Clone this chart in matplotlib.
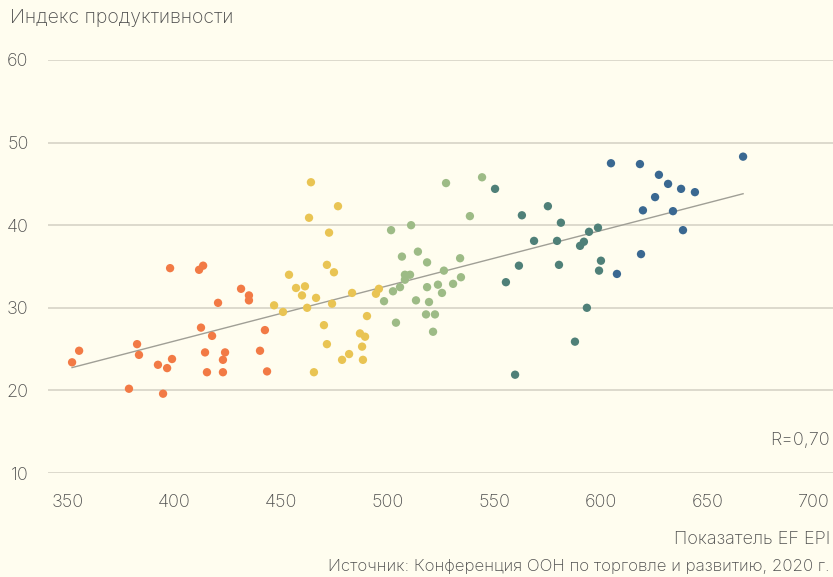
import numpy as np
import matplotlib
matplotlib.use("Agg")
import matplotlib.pyplot as plt

# ---- data ----
orange_x = [351.9, 355.2, 378.6, 382.4, 383.3, 392.2, 394.6, 396.5, 397.9, 398.8,
            411.5, 413.4, 412.4, 414.3, 415.2, 417.6, 420.4, 423.7, 422.7, 422.7,
            431.2, 434.9, 434.9, 440.1, 442.4, 443.4]
orange_y = [23.4, 24.8, 20.2, 25.6, 24.3, 23.1, 19.6, 22.7, 34.8, 23.8,
            34.6, 35.1, 27.6, 24.6, 22.2, 26.6, 30.6, 24.6, 23.7, 22.2,
            32.3, 31.5, 30.9, 24.8, 27.3, 22.3]

yellow_x = [464.0, 476.7, 463.1, 472.5, 471.5, 474.8, 453.7, 457.0, 461.2, 459.8,
            466.4, 462.2, 450.9, 446.7, 473.9, 483.3, 495.9, 494.5, 490.3, 470.1,
            487.0, 489.4, 471.5, 488.0, 481.9, 478.6, 488.4, 465.4]
yellow_y = [45.2, 42.3, 40.9, 39.1, 35.2, 34.3, 34.0, 32.4, 32.6, 31.5,
            31.2, 30.0, 29.5, 30.3, 30.5, 31.8, 32.3, 31.7, 29.0, 27.9,
            26.9, 26.5, 25.6, 25.3, 24.4, 23.7, 23.7, 22.2]

green_x = [527.4, 544.3, 538.6, 501.6, 511.0, 506.7, 514.2, 518.5, 534.0, 508.1,
           510.5, 508.1, 526.4, 534.4, 502.5, 505.8, 498.3, 518.5, 523.6, 530.7,
           525.5, 513.3, 519.4, 518.0, 522.2, 503.9, 521.3]
green_y = [45.1, 45.8, 41.1, 39.4, 40.0, 36.2, 36.8, 35.5, 36.0, 34.0,
           34.0, 33.4, 34.5, 33.7, 32.0, 32.5, 30.8, 32.5, 32.8, 32.9,
           31.8, 30.9, 30.7, 29.2, 29.2, 28.2, 27.1]

teal_x = [550.4, 563.0, 575.2, 581.3, 568.7, 579.5, 590.3, 592.1, 594.5, 598.7,
          561.6, 580.4, 600.1, 599.2, 555.5, 593.5, 587.9, 559.8]
teal_y = [44.4, 41.2, 42.3, 40.3, 38.1, 38.1, 37.5, 38.0, 39.2, 39.7,
          35.1, 35.2, 35.7, 34.5, 33.1, 30.0, 25.9, 21.9]

blue_x = [604.8, 618.4, 627.3, 631.6, 637.7, 644.2, 666.8, 625.5, 619.8, 633.9,
          638.6, 618.9, 607.6]
blue_y = [47.5, 47.4, 46.1, 45.0, 44.4, 44.0, 48.3, 43.4, 41.8, 41.7,
          39.4, 36.5, 34.1]

x_ticks = [350, 400, 450, 500, 550, 600, 650, 700]
y_ticks = [10, 20, 30, 40, 50, 60]

groups = [
    (orange_x, orange_y, "#F27A45"),
    (yellow_x, yellow_y, "#E9C453"),
    (green_x, green_y, "#9DBB86"),
    (teal_x, teal_y, "#4F8078"),
    (blue_x, blue_y, "#3A6891"),
]

BG = "#FFFDEF"
TXT = "#4F4F4F"
plt.rcParams['font.family'] = ['Inter', 'DejaVu Sans']
FS = 13

fig = plt.figure(figsize=(8.33, 5.77), dpi=100, facecolor=BG)
ax = fig.add_axes([48/833, 1-473/577, (833-48)/833, (473-60)/577])
ax.set_facecolor(BG)

for xs, ys, c in groups:
    ax.scatter(xs, ys, s=36, color=c, edgecolors='none', zorder=3)

all_x = np.concatenate([g[0] for g in groups])
all_y = np.concatenate([g[1] for g in groups])
k, b = np.polyfit(all_x, all_y, 1)
xx = np.array([all_x.min(), all_x.max()])
ax.plot(xx, k*xx + b, color="#A09F96", lw=1.0, zorder=2)

ax.set_xlim(340.6, 709)
ax.set_ylim(10, 60)
ax.set_xticks(x_ticks)
ax.set_yticks(y_ticks)
ax.grid(axis='y', color="#D3D0C3", lw=1.1, zorder=0)
ax.grid(axis='x', visible=False)
for s in ax.spines.values():
    s.set_visible(False)
ax.tick_params(length=0, labelsize=FS, labelcolor=TXT)
ax.tick_params(axis='x', pad=15)
ax.tick_params(axis='y', pad=14)
for lab in ax.get_xticklabels() + ax.get_yticklabels():
    lab.set_fontweight('light')

fig.text(10/833, 1-18/577, "Индекс продуктивности", fontsize=14, color=TXT,
         fontweight='light', ha='left', va='center')
fig.text(830/833, 1-440/577, "R=0,70", fontsize=FS, color=TXT,
         fontweight='light', ha='right', va='center')
fig.text(830/833, 1-540/577, "Показатель EF EPI", fontsize=FS, color=TXT,
         fontweight='light', ha='right', va='center')
fig.text(830/833, 1-567/577, "Источник: Конференция ООН по торговле и развитию, 2020 г.",
         fontsize=12.2, color=TXT, fontweight='light', ha='right', va='center')

fig.savefig("out.png", dpi=100, facecolor=BG)
